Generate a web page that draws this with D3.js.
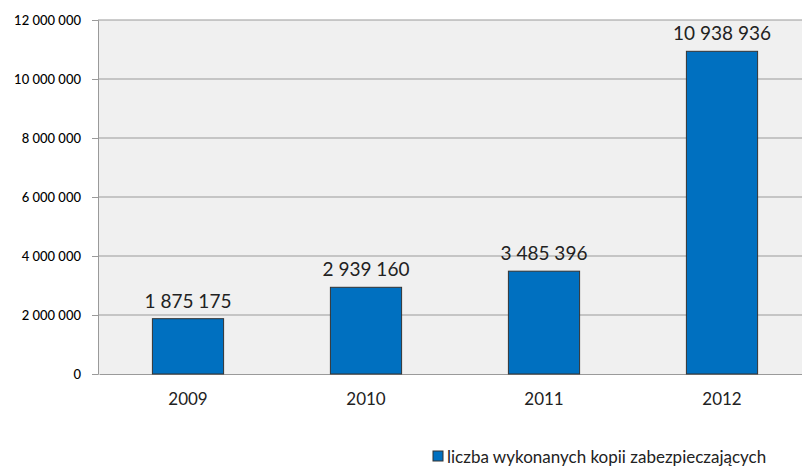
<!DOCTYPE html>
<html><head><meta charset="utf-8">
<script src="https://cdn.jsdelivr.net/npm/d3@7"></script>
<style>body{margin:0;background:#fff}svg{display:block}text{font-family:Lato,"Open Sans",sans-serif}</style>
</head><body><svg id="c" width="802" height="468"></svg>
<script>
const categories = ["2009","2010","2011","2012"];
const values = [1875175, 2939160, 3485396, 10938936];
const yTicks = [0,2000000,4000000,6000000,8000000,10000000,12000000];
const seriesName = "liczba wykonanych kopii zabezpieczających";

const fmt = v => d3.format(",")(v).replace(/,/g, " ");
const svg = d3.select("#c");
const L = 98, R = 810, T = 20, B = 374;
const x = d3.scaleBand().domain(categories).range([L + 1, R + 1]).paddingInner(0.6).paddingOuter(0.3);
const y = d3.scaleLinear().domain([0, 12000000]).range([B, T]);

svg.append("rect").attr("x", L).attr("y", T).attr("width", R - L).attr("height", B - T).attr("fill", "#f0f0f0");

const ya = svg.append("g").attr("transform", `translate(${L},0)`)
  .call(d3.axisLeft(y).tickValues(yTicks).tickSize(6).tickFormat(fmt));
ya.select(".domain").attr("stroke", "#9a9a9a");
ya.selectAll(".tick line").attr("stroke", "#9a9a9a");
ya.selectAll(".tick text").attr("font-size", 13).attr("font-weight", 500).attr("fill", "#000").attr("x", -17);
svg.append("g").selectAll("line").data(yTicks.filter(d => d > 0)).join("line")
  .attr("x1", L).attr("x2", R).attr("y1", d => y(d)).attr("y2", d => y(d))
  .attr("stroke", "#9a9a9a").attr("stroke-width", 1.2);

const xa = svg.append("g").attr("transform", `translate(0,${B})`)
  .call(d3.axisBottom(x).tickSize(0).tickPadding(19));
xa.select(".domain").attr("stroke", "#9a9a9a").attr("stroke-width", 1.2);
xa.selectAll(".tick text").attr("font-size", 17).attr("fill", "#222");

svg.append("g").selectAll("rect").data(values).join("rect")
  .attr("x", (d, i) => x(categories[i])).attr("width", x.bandwidth())
  .attr("y", d => y(d)).attr("height", d => B - y(d))
  .attr("fill", "#0070c0").attr("stroke", "#333").attr("stroke-width", 1);

svg.append("g").selectAll("text").data(values).join("text")
  .attr("x", (d, i) => x(categories[i]) + x.bandwidth() / 2).attr("y", d => y(d) - 11)
  .attr("text-anchor", "middle").attr("font-size", 19).attr("fill", "#222").text(fmt);

const lg = svg.append("g");
lg.append("rect").attr("x", 433).attr("y", 451).attr("width", 10).attr("height", 10)
  .attr("fill", "#0070c0").attr("stroke", "#333");
lg.append("text").attr("x", 447).attr("y", 463).attr("font-size", 17).attr("fill", "#222").text(seriesName);
</script></body></html>
